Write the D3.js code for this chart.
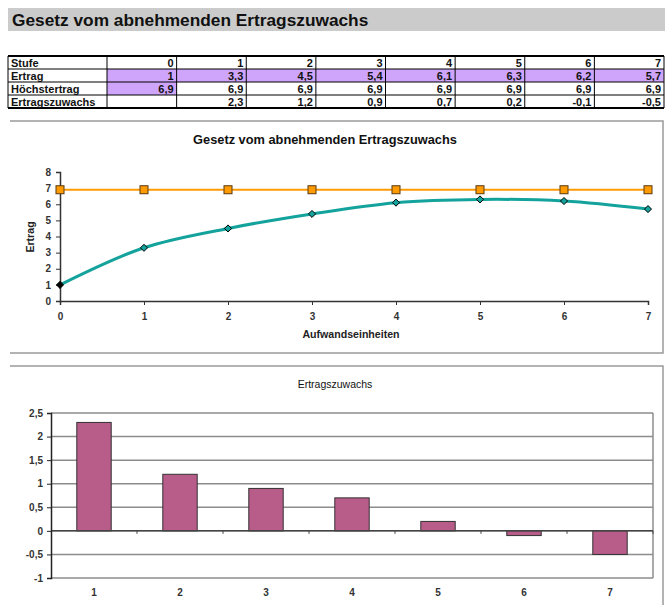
<!DOCTYPE html>
<html>
<head>
<meta charset="utf-8">
<script src="https://cdn.jsdelivr.net/npm/d3@7"></script>
<style>
  html, body { margin: 0; padding: 0; background: #fff; }
  svg { display: block; font-family: Arial, "Liberation Sans", Helvetica, sans-serif; }
</style>
</head>
<body>
<svg id="sheet" width="665" height="605"></svg>
<script>
// Table and chart data
const stufen = [0, 1, 2, 3, 4, 5, 6, 7];
const ertrag = [1, 3.3, 4.5, 5.4, 6.1, 6.3, 6.2, 5.7];
const hoechstertrag = [6.9, 6.9, 6.9, 6.9, 6.9, 6.9, 6.9, 6.9];
const zuwachsStufen = [1, 2, 3, 4, 5, 6, 7];
const ertragszuwachs = [2.3, 1.2, 0.9, 0.7, 0.2, -0.1, -0.5];
const rowLabels = ["Stufe", "Ertrag", "Höchstertrag", "Ertragszuwachs"];
const lineTicksY = [0, 1, 2, 3, 4, 5, 6, 7, 8];
const barTicksY = [-1, -0.5, 0, 0.5, 1, 1.5, 2, 2.5];

const svg = d3.select("#sheet");
const de = v => String(v).replace(".", ",");

// ---------- Heading bar ----------
svg.append("rect").attr("x", 8).attr("y", 8).attr("width", 657).attr("height", 23).attr("fill", "#cbcbcb");
svg.append("text").attr("x", 12).attr("y", 26).attr("font-size", 17.3).attr("font-weight", "bold")
  .attr("fill", "#111").text("Gesetz vom abnehmenden Ertragszuwachs");

// ---------- Table ----------
const tbl = svg.append("g");
const rowY = d3.scaleBand().domain(d3.range(4)).range([56, 108]);
const colX = d3.scaleBand().domain(stufen).range([107, 664]);
const labelX0 = 8, labelX1 = 107;
const purple = "#cfa5fb";
const rows = [
  stufen.map(String),
  ertrag.map(de),
  hoechstertrag.map(de),
  [""].concat(ertragszuwachs.map(de))
];
// highlighted cells: the whole Ertrag row and the first Höchstertrag value
stufen.forEach(s => {
  tbl.append("rect").attr("x", colX(s)).attr("y", rowY(1)).attr("width", colX.bandwidth()).attr("height", rowY.bandwidth()).attr("fill", purple);
});
tbl.append("rect").attr("x", colX(0)).attr("y", rowY(2)).attr("width", colX.bandwidth()).attr("height", rowY.bandwidth()).attr("fill", purple);
// grid lines
d3.range(5).forEach(i => {
  const y = i < 4 ? rowY(i) : rowY(3) + rowY.bandwidth();
  tbl.append("line").attr("x1", labelX0).attr("x2", 664).attr("y1", y).attr("y2", y)
    .attr("stroke", "#000").attr("stroke-width", (i === 0 || i === 4) ? 2 : 1);
});
[labelX0, labelX1].concat(stufen.map(s => colX(s) + colX.bandwidth())).forEach(x => {
  tbl.append("line").attr("x1", x).attr("x2", x).attr("y1", 56).attr("y2", 108)
    .attr("stroke", "#000").attr("stroke-width", 1);
});
// texts
rowLabels.forEach((lab, r) => {
  tbl.append("text").attr("x", labelX0 + 3).attr("y", rowY(r) + 10.8).attr("font-size", 11)
    .attr("font-weight", "bold").attr("fill", "#111").text(lab);
  rows[r].forEach((v, c) => {
    tbl.append("text").attr("x", colX(stufen[c]) + colX.bandwidth() - 3).attr("y", rowY(r) + 10.8)
      .attr("text-anchor", "end").attr("font-size", 11).attr("font-weight", "bold").attr("fill", "#111").text(v);
  });
});

// chart frame: top, right and bottom edges
function frame(g, x0, y0, x1, y1) {
  g.append("path").attr("d", `M${x0},${y0}H${x1}V${y1}H${x0}`)
    .attr("fill", "none").attr("stroke", "#9a9a9a").attr("stroke-width", 1.5);
}

// ---------- Line chart ----------
const c1 = svg.append("g");
frame(c1, 10, 121, 663, 353);
c1.append("text").attr("x", 325).attr("y", 144).attr("text-anchor", "middle").attr("font-size", 12.8)
  .attr("font-weight", "bold").attr("fill", "#111").text("Gesetz vom abnehmenden Ertragszuwachs");

const x1 = d3.scaleLinear().domain([0, 7]).range([60, 648]);
const y1 = d3.scaleLinear().domain([0, 8]).range([301, 172]);

const yAx1 = c1.append("g").attr("transform", "translate(60,0)")
  .call(d3.axisLeft(y1).tickValues(lineTicksY).tickSize(4).tickPadding(5).tickFormat(d3.format("d")));
const xAx1 = c1.append("g").attr("transform", "translate(0,301)")
  .call(d3.axisBottom(x1).tickValues(stufen).tickSize(4).tickPadding(8).tickFormat(d3.format("d")));
[yAx1, xAx1].forEach(a => {
  a.select(".domain").attr("stroke", "#333").attr("stroke-width", 1.5);
  a.selectAll(".tick line").attr("stroke", "#333");
  a.selectAll(".tick text").attr("font-size", 10).attr("font-weight", "bold").attr("fill", "#333")
    .attr("font-family", "Arial, 'Liberation Sans', sans-serif");
});
c1.append("text").attr("x", 351).attr("y", 338).attr("text-anchor", "middle").attr("font-size", 10.6)
  .attr("font-weight", "bold").attr("fill", "#222").text("Aufwandseinheiten");
c1.append("text").attr("transform", "translate(34,237) rotate(-90)").attr("text-anchor", "middle")
  .attr("font-size", 10.6).attr("font-weight", "bold").attr("fill", "#222").text("Ertrag");

const hData = stufen.map((s, i) => ({ s, v: hoechstertrag[i] }));
const eData = stufen.map((s, i) => ({ s, v: ertrag[i] }));
c1.append("path").datum(hData).attr("fill", "none").attr("stroke", "#ff9a00").attr("stroke-width", 2)
  .attr("d", d3.line().x(d => x1(d.s)).y(d => y1(d.v)));
c1.append("path").datum(eData).attr("fill", "none").attr("stroke", "#14a39c").attr("stroke-width", 3)
  .attr("d", d3.line().curve(d3.curveCatmullRom.alpha(0.5)).x(d => x1(d.s)).y(d => y1(d.v)));
c1.selectAll(".sq").data(hData).join("rect").attr("class", "sq")
  .attr("x", d => x1(d.s) - 4).attr("y", d => y1(d.v) - 4).attr("width", 8).attr("height", 8)
  .attr("fill", "#ff9a00").attr("stroke", "#5a3a10").attr("stroke-width", 1);
c1.selectAll(".dm").data(eData).join("path").attr("class", "dm")
  .attr("transform", d => `translate(${x1(d.s)},${y1(d.v)})`)
  .attr("d", d3.symbol().type(d3.symbolDiamond2).size(32))
  .attr("fill", (d, i) => i === 0 ? "#000" : "#14a39c").attr("stroke", "#000").attr("stroke-width", 1);

// ---------- Bar chart ----------
const c2 = svg.append("g");
frame(c2, 10, 366, 663, 612);
c2.append("text").attr("x", 335).attr("y", 388).attr("text-anchor", "middle").attr("font-size", 10.5)
  .attr("fill", "#111").text("Ertragszuwachs");

const x2 = d3.scaleBand().domain(zuwachsStufen).range([51, 653]).paddingInner(0.6).paddingOuter(0.3);
const xb = d3.scaleBand().domain(zuwachsStufen).range([51, 653]);
const y2 = d3.scaleLinear().domain([-1, 2.5]).range([578, 413]);

// gridlines
c2.selectAll(".grid").data(barTicksY).join("line").attr("class", "grid")
  .attr("x1", 51).attr("x2", 653).attr("y1", d => y2(d)).attr("y2", d => y2(d))
  .attr("stroke", "#8c8c8c").attr("stroke-width", 1.5);
c2.append("line").attr("x1", 653).attr("x2", 653).attr("y1", 413).attr("y2", 578)
  .attr("stroke", "#8c8c8c").attr("stroke-width", 1.5);

c2.selectAll(".bar").data(zuwachsStufen).join("rect").attr("class", "bar")
  .attr("x", d => x2(d)).attr("width", x2.bandwidth())
  .attr("y", (d, i) => y2(Math.max(0, ertragszuwachs[i])))
  .attr("height", (d, i) => Math.abs(y2(ertragszuwachs[i]) - y2(0)))
  .attr("fill", "#b85c8a").attr("stroke", "#333").attr("stroke-width", 1);

// zero axis with category ticks
c2.append("line").attr("x1", 51).attr("x2", 653).attr("y1", y2(0)).attr("y2", y2(0))
  .attr("stroke", "#444").attr("stroke-width", 1.5);
c2.selectAll(".ctick").data(zuwachsStufen).join("line").attr("class", "ctick")
  .attr("x1", d => xb(d) + xb.bandwidth()).attr("x2", d => xb(d) + xb.bandwidth())
  .attr("y1", y2(0)).attr("y2", y2(0) + 3).attr("stroke", "#444").attr("stroke-width", 1);

const yAx2 = c2.append("g").attr("transform", "translate(51,0)")
  .call(d3.axisLeft(y2).tickValues(barTicksY).tickSize(4).tickPadding(4).tickFormat(de));
yAx2.select(".domain").attr("stroke", "#222").attr("stroke-width", 1.5);
yAx2.selectAll(".tick line").attr("stroke", "#222");
yAx2.selectAll(".tick text").attr("font-size", 10).attr("font-weight", "bold").attr("fill", "#333")
  .attr("font-family", "Arial, 'Liberation Sans', sans-serif");

c2.selectAll(".clab").data(zuwachsStufen).join("text").attr("class", "clab")
  .attr("x", d => xb(d) + xb.bandwidth() / 2).attr("y", 596).attr("text-anchor", "middle")
  .attr("font-size", 10).attr("font-weight", "bold").attr("fill", "#333").text(d => d);
</script>
</body>
</html>
